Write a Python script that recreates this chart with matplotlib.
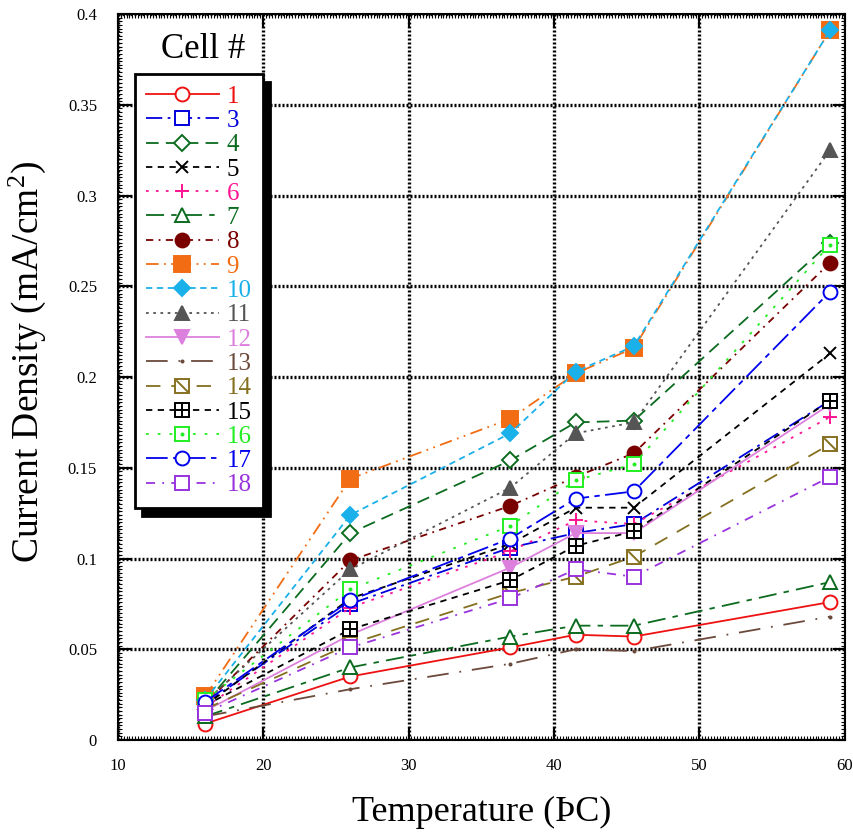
import matplotlib
matplotlib.use("Agg")
import matplotlib.pyplot as plt
from matplotlib.lines import Line2D
from matplotlib.path import Path
from matplotlib.ticker import MultipleLocator

plt.rcParams["font.family"] = ["Liberation Serif", "DejaVu Serif"]
plt.rcParams["mathtext.fontset"] = "custom"
plt.rcParams["mathtext.rm"] = "Liberation Serif"
plt.rcParams["mathtext.it"] = "Liberation Serif:italic"

# ---------------------------------------------------------------------------
# Data
# ---------------------------------------------------------------------------

temps = [16, 26, 37, 41.5, 45.5, 59]

cell_ids = ["1", "3", "4", "5", "6", "7", "8", "9", "10",
            "11", "12", "13", "14", "15", "16", "17", "18"]

cell1 = [0.009, 0.035, 0.051, 0.058, 0.057, 0.076]
cell3 = [0.020, 0.075, 0.106, 0.114, 0.119, 0.187]
cell4 = [0.020, 0.114, 0.154, 0.175, 0.176, 0.274]
cell5 = [0.019, 0.078, 0.108, 0.128, 0.128, 0.213]
cell6 = [0.018, 0.073, 0.104, 0.121, 0.119, 0.178]
cell7 = [0.013, 0.040, 0.057, 0.063, 0.063, 0.087]
cell8 = [0.020, 0.099, 0.129, 0.145, 0.158, 0.263]
cell9 = [0.024, 0.144, 0.177, 0.202, 0.216, 0.391]
cell10 = [0.022, 0.124, 0.169, 0.203, 0.217, 0.391]
cell11 = [0.021, 0.094, 0.139, 0.169, 0.175, 0.325]
cell12 = [0.016, 0.058, 0.095, 0.114, 0.114, 0.185]
cell13 = [0.013, 0.028, 0.042, 0.050, 0.049, 0.068]
cell14 = [0.017, 0.053, 0.081, 0.090, 0.101, 0.163]
cell15 = [0.019, 0.061, 0.088, 0.107, 0.115, 0.187]
cell16 = [0.022, 0.083, 0.118, 0.143, 0.152, 0.273]
cell17 = [0.021, 0.077, 0.111, 0.133, 0.137, 0.247]
cell18 = [0.015, 0.051, 0.078, 0.094, 0.090, 0.145]

values = [cell1, cell3, cell4, cell5, cell6, cell7, cell8, cell9, cell10,
          cell11, cell12, cell13, cell14, cell15, cell16, cell17, cell18]

# ---------------------------------------------------------------------------
# Styles
# ---------------------------------------------------------------------------

diag = Path([(-1, 1), (1, -1)], [Path.MOVETO, Path.LINETO])

# (color, dashes, marker, filled, overlay marker, overlay size)
styles = {
    "1":  ("#ee1111", "-", "o", False, None, 0),
    "3":  ("#0000dd", (0, (9, 3, 1.5, 3)), "s", False, None, 0),
    "4":  ("#0b6b1f", (0, (7, 4)), "D", False, None, 0),
    "5":  ("#000000", (0, (3.5, 3)), "x", False, None, 0),
    "6":  ("#ff1493", (0, (1.5, 4)), "+", False, None, 0),
    "7":  ("#0b6b1f", (0, (10, 4, 3, 4)), "^", False, None, 0),
    "8":  ("#7a0000", (0, (4, 3, 1, 3)), "o", True, None, 0),
    "9":  ("#f26c13", (0, (7, 3, 1, 3, 1, 3)), "s", True, None, 0),
    "10": ("#1ab0ea", (0, (3.5, 2.5)), "D", True, None, 0),
    "11": ("#555555", (0, (1.5, 2.5)), "^", True, None, 0),
    "12": ("#dd80dd", "-", "v", True, None, 0),
    "13": ("#6b4a3c", (0, (12, 6, 1, 6)), ".", True, None, 0),
    "14": ("#857020", (0, (8, 6)), "s", False, diag, 9),
    "15": ("#000000", (0, (3.5, 3)), "s", False, "+", 9),
    "16": ("#22ee22", (0, (1.5, 5)), "s", False, ".", 3),
    "17": ("#0000ee", (0, (12, 3, 3, 3)), "o", False, None, 0),
    "18": ("#9933dd", (0, (5, 4, 1, 4)), "s", False, None, 0),
}

marker_sizes = {"o": 10, "s": 10, "D": 8.5, "x": 9, "+": 10, "^": 10,
                "v": 10, ".": 3}


def make_lines(ax, cid, ys, draw=True):
    color, ls, marker, filled, over, over_ms = styles[cid]
    ms = marker_sizes[marker]
    if cid == "9":
        ms = 11
    kw = dict(color=color, linestyle=ls, linewidth=1.3, marker=marker,
              markersize=ms, markeredgecolor=color, markeredgewidth=1.4,
              markerfacecolor=color if filled else "white")
    if draw:
        main, = ax.plot(temps, ys, **kw)
    else:
        main = Line2D([], [], **kw)
    if over is None:
        return main
    okw = dict(linestyle="none", marker=over, markersize=over_ms,
               markeredgecolor=color, markerfacecolor=color,
               markeredgewidth=1.4)
    if draw:
        extra, = ax.plot(temps, ys, **okw)
    else:
        extra = Line2D([], [], **okw)
    return (main, extra)


# ---------------------------------------------------------------------------
# Plot
# ---------------------------------------------------------------------------

fig = plt.figure(figsize=(8.54, 8.34), dpi=100)
ax = fig.add_axes([0.138, 0.1127, 0.851, 0.8705])

handles = []
for cid, ys in zip(cell_ids, values):
    make_lines(ax, cid, ys)
    handles.append(make_lines(ax, cid, ys, draw=False))

ax.set_xlim(10, 60)
ax.set_ylim(0, 0.4)
ax.xaxis.set_major_locator(MultipleLocator(10))
ax.xaxis.set_minor_locator(MultipleLocator(0.2))
ax.yaxis.set_minor_locator(MultipleLocator(0.002))
ax.set_yticks([0, 0.05, 0.1, 0.15, 0.2, 0.25, 0.3, 0.35, 0.4])
ax.set_yticklabels(["0", "0.05", "0.1", "0.15", "0.2", "0.25", "0.3",
                    "0.35", "0.4"])

ax.tick_params(which="major", direction="in", length=9, width=1.5,
               top=True, right=True, labelsize=12)
ax.tick_params(axis="x", which="major", pad=13)
ax.tick_params(axis="y", which="major", pad=15)
ax.tick_params(which="minor", direction="in", length=3, width=0.8,
               top=True, right=True)
for sp in ax.spines.values():
    sp.set_linewidth(1.5)

ax.grid(True, which="major", color="black", linestyle=(0, (0.6, 0.6)),
        linewidth=2.4)
ax.set_axisbelow(True)

ax.set_xlabel("Temperature (ÞC)", fontsize=26, labelpad=16)
ax.set_ylabel("Current Density (mA/cm$^2$)", fontsize=27)
ax.yaxis.set_label_coords(-0.096, 0.521)

leg = ax.legend(handles, cell_ids, loc="upper left",
                bbox_to_anchor=(0.0234, 0.9175), fontsize=18,
                handlelength=2.9, handletextpad=0.32, labelspacing=0.072,
                borderpad=0.45, borderaxespad=0, fancybox=False,
                framealpha=1, edgecolor="black",
                shadow={"ox": 5.5, "oy": -6, "facecolor": "black",
                        "edgecolor": "black", "alpha": 1})
leg.get_frame().set_linewidth(2)
for txt, cid in zip(leg.get_texts(), cell_ids):
    txt.set_color(styles[cid][0])

fig.text(0.238, 0.941, "Cell #", fontsize=25, ha="center", va="center")

fig.savefig("out.png", dpi=100)
plt.close(fig)
